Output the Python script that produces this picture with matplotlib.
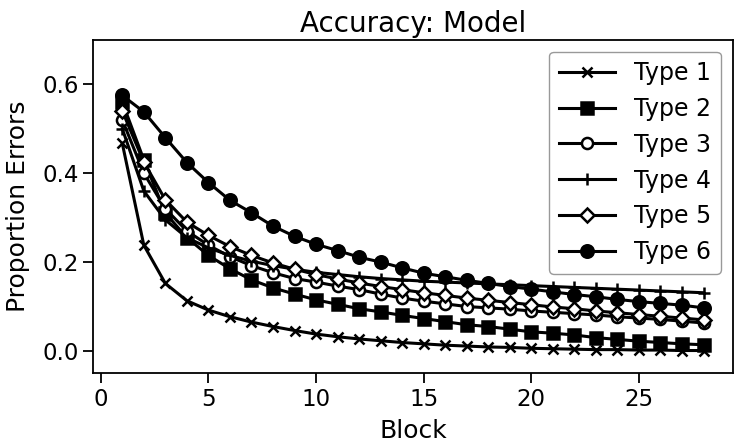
import numpy as np
import matplotlib.pyplot as plt

blocks = np.arange(1, 29)

type1 = [0.467, 0.238, 0.152, 0.113, 0.092, 0.077, 0.065, 0.055, 0.046, 0.038,
         0.032, 0.027, 0.023, 0.019, 0.016, 0.013, 0.011, 0.009, 0.008, 0.006,
         0.005, 0.004, 0.003, 0.003, 0.002, 0.002, 0.001, 0.001]
type2 = [0.560, 0.430, 0.310, 0.255, 0.215, 0.185, 0.160, 0.142, 0.128, 0.115,
         0.105, 0.095, 0.088, 0.080, 0.073, 0.066, 0.059, 0.055, 0.049, 0.043,
         0.040, 0.036, 0.030, 0.026, 0.022, 0.019, 0.016, 0.014]
type3 = [0.520, 0.400, 0.320, 0.270, 0.238, 0.212, 0.192, 0.176, 0.163, 0.155,
         0.146, 0.138, 0.128, 0.119, 0.112, 0.106, 0.100, 0.097, 0.094, 0.090,
         0.087, 0.084, 0.081, 0.077, 0.074, 0.071, 0.067, 0.063]
type4 = [0.500, 0.360, 0.295, 0.255, 0.232, 0.215, 0.202, 0.192, 0.184, 0.177,
         0.172, 0.167, 0.163, 0.160, 0.157, 0.155, 0.153, 0.151, 0.149, 0.147,
         0.145, 0.143, 0.141, 0.139, 0.137, 0.135, 0.133, 0.131]
type5 = [0.540, 0.425, 0.340, 0.290, 0.260, 0.235, 0.215, 0.198, 0.184, 0.172,
         0.162, 0.153, 0.145, 0.138, 0.131, 0.125, 0.119, 0.114, 0.109, 0.104,
         0.099, 0.095, 0.090, 0.086, 0.082, 0.078, 0.074, 0.070]
type6 = [0.575, 0.538, 0.480, 0.424, 0.379, 0.339, 0.311, 0.281, 0.258, 0.240,
         0.226, 0.211, 0.200, 0.187, 0.175, 0.167, 0.159, 0.152, 0.145, 0.139,
         0.133, 0.127, 0.122, 0.116, 0.111, 0.107, 0.103, 0.097]

labels = ["Type 1", "Type 2", "Type 3", "Type 4", "Type 5", "Type 6"]
series = [type1, type2, type3, type4, type5, type6]
markers = ["x", "s", "o", "+", "D", "o"]
fills = ["full", "full", "none", "full", "none", "full"]
sizes = [7, 8, 8, 9, 7, 9]
yticks = [0.0, 0.2, 0.4, 0.6]

fig, ax = plt.subplots(figsize=(7.4, 4.48), dpi=100)

for label, vals, m, fill, ms in zip(labels, series, markers, fills, sizes):
    face = "black" if fill == "full" else "white"
    ax.plot(blocks, vals, color="black", marker=m, markersize=ms,
            markerfacecolor=face, markeredgecolor="black",
            markeredgewidth=1.8, linewidth=2.2, label=label)

ax.set_ylim(-0.05, 0.7)
ax.set_yticks(yticks)
ax.set_title("Accuracy: Model", fontsize=20)
ax.set_xlabel("Block", fontsize=18, labelpad=6)
ax.set_ylabel("Proportion Errors", fontsize=18, labelpad=9)
ax.tick_params(labelsize=16.5, width=1.3, length=7)
for s in ax.spines.values():
    s.set_linewidth(1.3)
ax.legend(loc="upper right", fontsize=17, edgecolor="gray", handlelength=2.4)

plt.subplots_adjust(left=0.126, right=0.99, top=0.911, bottom=0.167)
plt.savefig("out.png")
